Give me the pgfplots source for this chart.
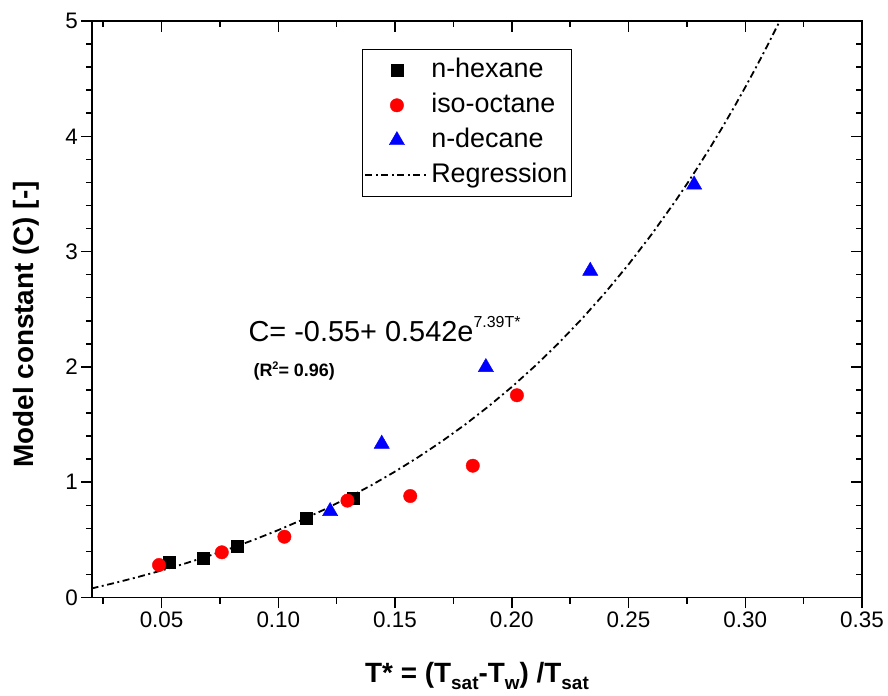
\documentclass[border=0pt]{standalone}
\usepackage{pgfplots}
\pgfplotsset{compat=1.18}
\usepackage{fontspec}
\setmainfont{Liberation Sans}

\begin{document}
\begin{tikzpicture}
\pgfplotsset{
  common/.style={
    scale only axis, width=770bp, height=576.5bp,
    xmin=0.0202, xmax=0.35, ymin=0, ymax=5,
    xtick={0.05,0.10,0.15,0.20,0.25,0.30,0.35},
    minor xtick={0.025,0.075,0.125,0.175,0.225,0.275,0.325},
    ytick={0,1,2,3,4,5},
    minor ytick={0.2,0.4,0.6,0.8,1.2,1.4,1.6,1.8,2.2,2.4,2.6,2.8,3.2,3.4,3.6,3.8,4.2,4.4,4.6,4.8},
    major tick length=10.7bp, minor tick length=6bp,
    every tick/.style={black, line width=1.5bp},
    axis line style={line width=1.8bp},
  }
}
\begin{axis}[common,
  xtick pos=bottom, ytick pos=left, tick align=outside,
  /pgf/number format/assume math mode=true,
  ticklabel style={font=\fontsize{22.5}{26}\selectfont},
  x tick label style={/pgf/number format/.cd, fixed, fixed zerofill, precision=2, /tikz/.cd},
  xlabel={T* = (T\raisebox{-7bp}{\fontsize{19}{22}\selectfont sat}-T\raisebox{-7bp}{\fontsize{19}{22}\selectfont w}) /T\raisebox{-7bp}{\fontsize{19}{22}\selectfont sat}},
  ylabel={Model constant (C) [-]},
  xlabel style={at={(axis description cs:0.5,-0.1483)}, anchor=base, font=\fontsize{28}{32}\selectfont\bfseries},
  ylabel style={at={(axis description cs:-0.0766,0.4736)}, anchor=base, font=\fontsize{28}{32}\selectfont\bfseries},
  legend style={at={(0.3506,0.9514)}, anchor=north west, draw=black, line width=1.1bp,
    font=\fontsize{27}{31}\selectfont, inner xsep=2bp, inner ysep=6bp, row sep=5.5bp,
    nodes={inner sep=2bp, text height=20bp, text depth=5.5bp}},
  legend cell align=left,
  legend image code/.code={\draw[mark repeat=2,mark phase=2,#1] plot coordinates {(0bp,0bp) (31.5bp,0bp) (63bp,0bp)};},
]
\addplot[only marks, mark=square*, mark size=6bp, line width=0.4bp, draw=black, fill=black,
  mark options={draw=black, fill=black}] coordinates {
  (0.0532,0.302) (0.0678,0.340) (0.0823,0.449) (0.1118,0.692) (0.1322,0.860)
};
\addlegendentry{n-hexane}
\addplot[only marks, mark=*, mark size=6.7bp, line width=0.4bp, draw=red, fill=red,
  mark options={draw=red, fill=red}] coordinates {
  (0.0489,0.282) (0.0758,0.392) (0.1026,0.527) (0.1296,0.840) (0.1565,0.880) (0.1833,1.143) (0.2022,1.754)
};
\addlegendentry{iso-octane}
\addplot[only marks, mark=triangle*, mark size=8.8bp, line width=0.4bp, draw=blue, fill=blue,
  mark options={draw=blue, fill=blue}] coordinates {
  (0.1222,0.748) (0.1443,1.332) (0.1889,1.997) (0.2336,2.832) (0.2781,3.580)
};
\addlegendentry{n-decane}
\addplot[black, line width=1.8bp, dash pattern=on 7bp off 3.5bp on 2bp off 3.5bp, mark=none] coordinates {
  (0.020,0.0783) (0.030,0.1265) (0.040,0.1784) (0.050,0.2343) (0.060,0.2944)
  (0.070,0.3592) (0.080,0.4290) (0.090,0.5040) (0.100,0.5849) (0.110,0.6719)
  (0.120,0.7657) (0.130,0.8666) (0.140,0.9752) (0.150,1.0922) (0.160,1.2182)
  (0.170,1.3538) (0.180,1.4998) (0.190,1.6570) (0.200,1.8263) (0.210,2.0086)
  (0.220,2.2048) (0.230,2.4161) (0.240,2.6436) (0.250,2.8886) (0.260,3.1524)
  (0.270,3.4363) (0.275,3.5862) (0.280,3.7421) (0.285,3.9034) (0.290,4.0713)
  (0.295,4.2450) (0.300,4.4258) (0.305,4.6127) (0.310,4.8074) (0.315,5.0089)
};
\addlegendentry{Regression}
\node[anchor=base west, font=\fontsize{29}{34}\selectfont, inner sep=0pt] at (axis cs:0.0872,2.219)
  {C= -0.55+ 0.542e\raisebox{14bp}{\fontsize{16}{18}\selectfont 7.39T*}};
\node[anchor=base west, font=\fontsize{18}{22}\selectfont\bfseries, inner sep=0pt] at (axis cs:0.0893,1.921)
  {(R\raisebox{7bp}{\fontsize{11}{13}\selectfont\bfseries 2}= 0.96)};
\coordinate (bl) at (rel axis cs:0,0);
\end{axis}
\begin{axis}[common,
  xtick pos=top, ytick pos=right, tick align=inside,
  xticklabels={}, yticklabels={},
]
\end{axis}
\pgfresetboundingbox
\path[use as bounding box] ([shift={(-92bp,-98.5bp)}]bl) rectangle ([shift={(796bp,597.5bp)}]bl);
\end{tikzpicture}
\end{document}
